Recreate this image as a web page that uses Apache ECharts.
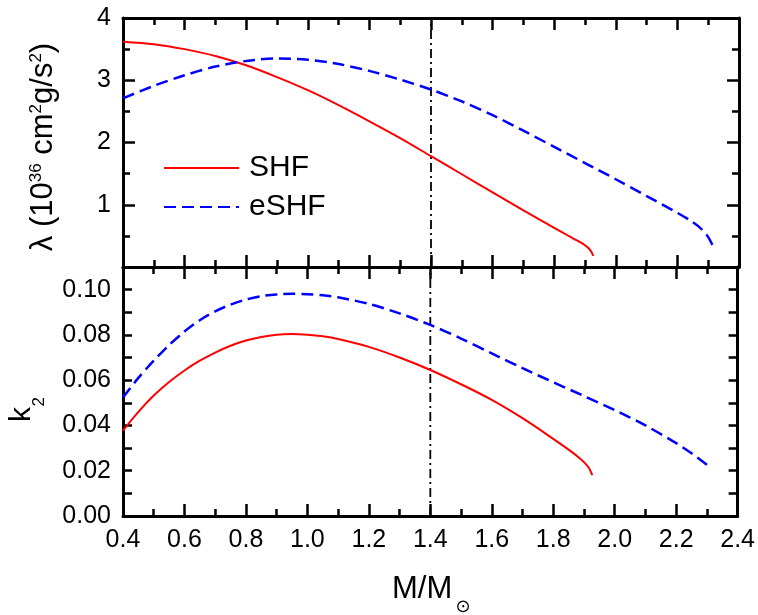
<!DOCTYPE html>
<html>
<head>
<meta charset="utf-8">
<script src="https://cdn.jsdelivr.net/npm/echarts@6/dist/echarts.min.js"></script>
<style>
  html, body { margin: 0; padding: 0; background: #fff; }
  #chart { width: 758px; height: 615px; }
  #log { position: absolute; left: 0; top: 0; font: 11px monospace; color: #c00; white-space: pre-wrap; width: 758px; pointer-events: none; }
</style>
</head>
<body>
<div id="chart"></div>
<div id="log"></div>
<script>
// Surface any runtime problem on the page itself
const logBox = document.getElementById('log');
const report = msg => { logBox.textContent += msg + '\n'; };
window.addEventListener('error', e => report('ERR ' + e.message));
['error', 'warn'].forEach(k => {
  const orig = console[k];
  console[k] = function () { report(k + ': ' + Array.from(arguments).join(' ')); orig.apply(console, arguments); };
});

// Tidal deformability (upper panel) of the SHF and eSHF stars
const massShfLambda = [0.40, 0.50, 0.60, 0.70, 0.80, 0.90, 1.00, 1.10, 1.20, 1.30, 1.40, 1.50, 1.60, 1.70, 1.80, 1.85, 1.88, 1.90, 1.91, 1.92, 1.927];
const shfLambda     = [3.62, 3.58, 3.50, 3.39, 3.24, 3.05, 2.84, 2.60, 2.34, 2.07, 1.78, 1.49, 1.20, 0.91, 0.63, 0.49, 0.41, 0.35, 0.31, 0.25, 0.18];

const massEshfLambda = [0.40, 0.50, 0.60, 0.70, 0.80, 0.90, 1.00, 1.10, 1.20, 1.30, 1.40, 1.50, 1.60, 1.70, 1.80, 1.90, 2.00, 2.10, 2.20, 2.25, 2.28, 2.30, 2.32];
const eshfLambda     = [2.71, 2.91, 3.08, 3.22, 3.31, 3.35, 3.33, 3.26, 3.15, 3.01, 2.85, 2.66, 2.44, 2.19, 1.93, 1.67, 1.41, 1.14, 0.87, 0.72, 0.60, 0.48, 0.29];

// Love number k2 (lower panel)
const massShfK2 = [0.40, 0.45, 0.50, 0.55, 0.60, 0.65, 0.70, 0.75, 0.80, 0.85, 0.90, 0.95, 1.00, 1.05, 1.10, 1.20, 1.30, 1.40, 1.50, 1.60, 1.70, 1.80, 1.85, 1.88, 1.90, 1.915, 1.927];
const shfK2     = [0.0377, 0.0460, 0.0532, 0.0592, 0.0643, 0.0686, 0.0722, 0.0752, 0.0775, 0.0791, 0.0801, 0.0804, 0.0801, 0.0794, 0.0782, 0.0747, 0.0700, 0.0645, 0.0582, 0.0513, 0.0432, 0.0341, 0.0293, 0.0262, 0.0238, 0.0214, 0.0181];

const massEshfK2 = [0.40, 0.45, 0.50, 0.55, 0.60, 0.65, 0.70, 0.75, 0.80, 0.85, 0.90, 0.95, 1.00, 1.05, 1.10, 1.20, 1.30, 1.40, 1.50, 1.60, 1.70, 1.80, 1.90, 2.00, 2.10, 2.20, 2.25, 2.30, 2.315];
const eshfK2     = [0.0524, 0.0610, 0.0686, 0.0755, 0.0815, 0.0865, 0.0904, 0.0934, 0.0956, 0.0971, 0.0979, 0.0982, 0.0980, 0.0975, 0.0966, 0.0937, 0.0895, 0.0844, 0.0784, 0.0718, 0.0653, 0.0591, 0.0530, 0.0468, 0.0400, 0.0322, 0.0277, 0.0226, 0.0208];

// Canonical 1.4 solar-mass star
const canonicalMass = [1.4];

// Axis ranges: [min, max, tick step]
const massRange = [0.4, 2.4, 0.2];
const lambdaRange = [0, 4, 1];
const k2Range = [0, 0.11, 0.01];

const zip = (xs, ys) => xs.map((x, i) => [x, ys[i]]);

const FONT = '"Liberation Sans", Arial, sans-serif';
const RED = '#ff0000';
const BLUE = '#0000ff';

function tickLabel(extra) {
  return Object.assign({ show: true, fontFamily: FONT, fontSize: 25, color: '#000', margin: 12 }, extra);
}

// Frame edge of a panel with inward ticks
function axis(gridIndex, position, range, labels, tickLen, minor) {
  return {
    type: 'value', gridIndex, position,
    min: range[0], max: range[1], interval: range[2],
    axisLine: { show: true, onZero: false, lineStyle: { color: '#000', width: 3 } },
    axisTick: { show: true, inside: true, length: tickLen, lineStyle: { color: '#000', width: 2.5 } },
    minorTick: minor ? { show: true, splitNumber: 2, length: 7, lineStyle: { color: '#000', width: 2.5 } } : { show: false },
    splitLine: { show: false },
    axisLabel: labels ? tickLabel(labels) : { show: false }
  };
}

function curve(name, xs, ys, xi, yi, color, dashed) {
  return {
    name, type: 'line', xAxisIndex: xi, yAxisIndex: yi,
    data: zip(xs, ys), showSymbol: false, symbol: 'none',
    smooth: 0.3,
    lineStyle: { color, width: dashed ? 2.5 : 2, type: dashed ? [12, 6] : 'solid' },
    itemStyle: { color },
    z: 3
  };
}

function markerLine(xi, yi, top) {
  return {
    type: 'line', xAxisIndex: xi, yAxisIndex: yi,
    data: [[canonicalMass[0], 0], [canonicalMass[0], top]],
    showSymbol: false, symbol: 'none', silent: true,
    lineStyle: { color: '#000', width: 1.8, type: [9, 4, 2, 4] },
    z: 2
  };
}

const massFmt = { formatter: v => v.toFixed(1) };
const lambdaFmt = { showMinLabel: false, formatter: v => String(Math.round(v)) };
const k2Fmt = {
  formatter: v => {
    const h = Math.round(v * 100);
    return (h % 2 === 0 && h <= 10) ? v.toFixed(2) : '';
  }
};

try {
  const chart = echarts.init(document.getElementById('chart'), null, { renderer: 'canvas' });
  chart.setOption({
    backgroundColor: '#fff',
    animation: false,
    grid: [
      { left: 123, right: 19, top: 18, height: 249 },
      { left: 123, right: 19, top: 267, height: 249 }
    ],
    xAxis: [
      axis(0, 'bottom', massRange, null, 12, true),
      axis(0, 'top', massRange, null, 12, true),
      axis(1, 'bottom', massRange, massFmt, 12, true),
      axis(1, 'top', massRange, null, 12, true)
    ],
    yAxis: [
      axis(0, 'left', lambdaRange, lambdaFmt, 12, true),
      axis(0, 'right', lambdaRange, null, 12, true),
      axis(1, 'left', k2Range, k2Fmt, 9, false),
      axis(1, 'right', k2Range, null, 9, false)
    ],
    legend: {
      data: ['SHF', 'eSHF'],
      orient: 'vertical',
      left: 158, top: 148,
      itemWidth: 75, itemHeight: 14, itemGap: 9,
      itemStyle: { opacity: 0 },
      textStyle: { fontFamily: FONT, fontSize: 30, color: '#000', padding: [0, 0, 0, 5] }
    },
    series: [
      curve('SHF', massShfLambda, shfLambda, 0, 0, RED, false),
      curve('eSHF', massEshfLambda, eshfLambda, 0, 0, BLUE, true),
      curve('SHF', massShfK2, shfK2, 2, 2, RED, false),
      curve('eSHF', massEshfK2, eshfK2, 2, 2, BLUE, true),
      markerLine(0, 0, lambdaRange[1]),
      markerLine(2, 2, k2Range[1])
    ],
    graphic: [
      {
        type: 'text', x: 43, y: 147, rotation: Math.PI / 2,
        style: {
          text: '{m|λ (10}{s|36}{m| cm}{s|2}{m|g/s}{s|2}{m|)}',
          rich: {
            m: { fontFamily: FONT, fontSize: 31, fill: '#000', color: '#000' },
            s: { fontFamily: FONT, fontSize: 17, fill: '#000', color: '#000', verticalAlign: 'top' }
          },
          align: 'center', verticalAlign: 'middle', fill: '#000'
        }
      },
      {
        type: 'text', x: 21.5, y: 414.5, rotation: Math.PI / 2,
        style: { text: 'k', font: '30px ' + FONT, fill: '#000', align: 'center', verticalAlign: 'middle' }
      },
      {
        type: 'text', x: 39, y: 401.7, rotation: Math.PI / 2,
        style: { text: '2', font: '17px ' + FONT, fill: '#000', align: 'center', verticalAlign: 'middle' }
      },
      {
        type: 'text', x: 392, y: 589.5,
        style: { text: 'M/M', font: '31px ' + FONT, fill: '#000', align: 'left', verticalAlign: 'middle' }
      },
      {
        type: 'text', x: 463, y: 607,
        style: { text: '⊙', font: '18px "DejaVu Sans", sans-serif', fill: '#000', align: 'center', verticalAlign: 'middle' }
      }
    ]
  });
} catch (e) {
  report('THROWN ' + e.message + '\n' + (e.stack || '').split('\n').slice(0, 4).join('\n'));
}
</script>
</body>
</html>
